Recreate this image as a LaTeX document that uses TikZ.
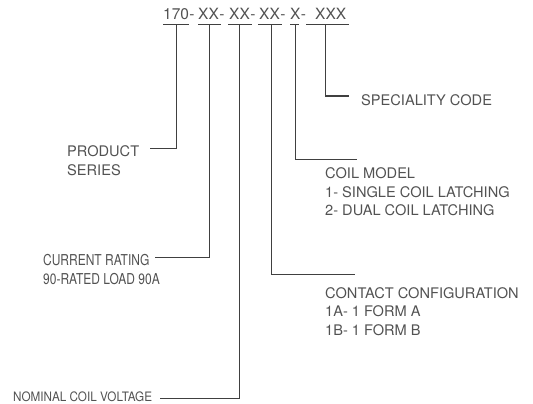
\documentclass[tikz,border=0pt]{standalone}
\usepackage{fontspec}
\setmainfont{TeX Gyre Heros}
\begin{document}
\begin{tikzpicture}[x=1pt,y=-1pt,
  ln/.style={draw=black!75, line width=1pt},
  lbl/.style={inner sep=0pt, anchor=north west, align=left, text=black!68,
    font=\fontsize{14.6}{18.5}\selectfont},
  cond/.style={inner sep=0pt, anchor=north west, align=left, text=black!68,
    font=\fontsize{15}{19}\selectfont, xscale=0.8},
  hdr/.style={inner sep=0pt, anchor=base west, text=black!68,
    font=\fontsize{15.5}{18}\selectfont}]
\useasboundingbox (0,0) rectangle (533,404);
% header code
\node[hdr] (p1) at (163,20) {170};
\node[hdr] (d1) at (p1.base east) {-};
\node[hdr] (p2) at (198,20) {XX};
\node[hdr] (d2) at (p2.base east) {-};
\node[hdr] (p3) at (229,20) {XX};
\node[hdr] (d3) at (p3.base east) {-};
\node[hdr] (p4) at (259,20) {XX};
\node[hdr] (d4) at (p4.base east) {-};
\node[hdr] (p5) at (290,20) {X};
\node[hdr] (d5) at (p5.base east) {-};
\node[hdr] (p6) at (315,20) {XXX};
% underlines
\draw[ln] (163,25) -- (189,25);
\draw[ln] (198,25) -- (221,25);
\draw[ln] (228,25) -- (252,25);
\draw[ln] (258,25) -- (282,25);
\draw[ln] (290,25) -- (299,25);
\draw[ln] (306,25) -- (349,25);
% tap points
\coordinate (t1) at (176,25);
\coordinate (t2) at (209,25);
\coordinate (t3) at (239,25);
\coordinate (t4) at (271,25);
\coordinate (t5) at (295,25);
\coordinate (t6) at (325,25);
% line ends
\coordinate (e1) at (150,148);
\coordinate (e2) at (155,257);
\coordinate (e3) at (160,398);
\coordinate (e4) at (355,274);
\coordinate (e5) at (357,159);
\coordinate (e6) at (349,96);
% labels
\node[lbl] (series) at (67,145.5) {PRODUCT\\SERIES};
\node[cond] (rating) at (43,254) {CURRENT RATING\\90-RATED LOAD 90A};
\node[inner sep=0pt, anchor=base west, text=black!68,
  font=\fontsize{13}{16}\selectfont, xscale=0.9] (voltage) at (13,401.5) {NOMINAL COIL VOLTAGE};
\node[lbl] (contact) at (325,287) {CONTACT CONFIGURATION\\1A- 1 FORM A\\1B- 1 FORM B};
\node[lbl] (coil) at (325,167.5) {COIL MODEL\\1- SINGLE COIL LATCHING\\2- DUAL COIL LATCHING};
\node[inner sep=0pt, anchor=base west, text=black!68,
  font=\fontsize{14.6}{18.5}\selectfont] (special) at (361,106) {SPECIALITY CODE};
% connectors
\draw[ln] (t1) |- (e1);
\draw[ln] (t2) |- (e2);
\draw[ln] (t3) |- (e3);
\draw[ln] (t4) |- (e4);
\draw[ln] (t5) |- (e5);
\draw[ln] (t6) |- (e6);
\end{tikzpicture}
\end{document}
